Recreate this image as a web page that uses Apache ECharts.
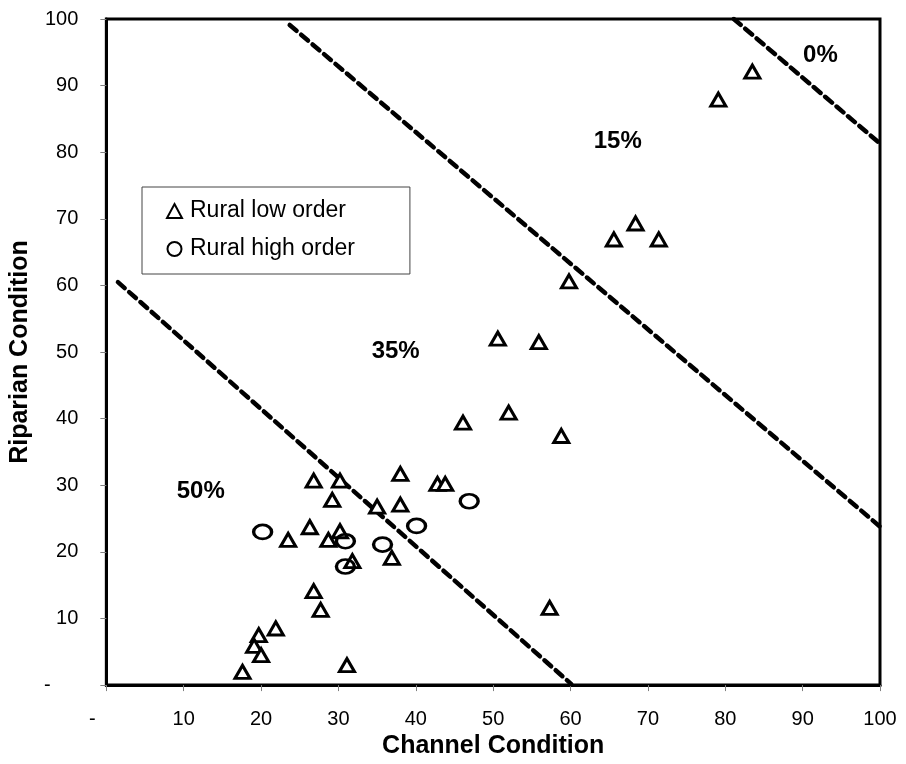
<!DOCTYPE html>
<html>
<head>
<meta charset="utf-8">
<script src="https://cdn.jsdelivr.net/npm/echarts@6/dist/echarts.min.js"></script>
<style>
html,body{margin:0;padding:0;background:#fff;}
#main{width:906px;height:764px;}
</style>
</head>
<body>
<div id="main"></div>
<script>
// Rural low order (triangles): channel condition, riparian condition
var lowOrderX = [83.5, 79.1, 68.4, 65.6, 71.4, 59.8, 50.6, 55.9, 46.1, 52.0, 58.8, 26.8, 30.2, 38.0, 42.8, 43.8, 29.2, 35.0, 38.0, 26.3, 30.2, 23.5, 28.7, 31.8, 36.9, 57.3, 26.8, 27.7, 21.9, 19.7, 19.1, 20.0, 17.6, 31.1];
var lowOrderY = [92.1, 87.9, 69.3, 66.9, 66.9, 60.6, 52.0, 51.5, 39.4, 40.9, 37.4, 30.7, 30.7, 31.7, 30.2, 30.2, 27.8, 26.8, 27.1, 23.7, 23.1, 21.8, 21.8, 18.6, 19.1, 11.6, 14.1, 11.3, 8.5, 7.5, 5.9, 4.5, 2.0, 3.0];
// Rural high order (circles)
var highOrderX = [20.2, 30.9, 30.9, 35.7, 40.1, 46.9];
var highOrderY = [23.0, 21.6, 17.8, 21.1, 23.9, 27.6];
// Dashed boundary lines (endpoints)
var line0X = [81.1, 99.7];
var line0Y = [100, 81.6];
var line15X = [23.7, 100];
var line15Y = [99.1, 23.8];
var line50X = [1.5, 60.1];
var line50Y = [60.5, 0.15];
// Zone labels
var zoneLabels = ['0%', '15%', '35%', '50%'];
var zoneLabelX = [92.3, 66.1, 37.4, 12.2];
var zoneLabelY = [94.6, 81.6, 50.1, 29.1];
// Axis ticks
var axisMin = 0, axisMax = 100, axisStep = 10;

function pairs(xs, ys) { return xs.map(function (x, i) { return [x, ys[i]]; }); }

var FONT = '"Liberation Sans", Arial, sans-serif';
var chart = echarts.init(document.getElementById('main'), null, { renderer: 'canvas' });

function lineSeries(xs, ys) {
  return {
    type: 'line', data: pairs(xs, ys), symbol: 'none', silent: true,
    lineStyle: { color: '#000', width: 4.5, type: [9, 6], cap: 'round' },
    z: 1
  };
}

chart.setOption({
  animation: false,
  backgroundColor: '#fff',
  grid: { left: 103, right: 26, top: 19, bottom: 78, show: true, borderColor: '#000', borderWidth: 3, backgroundColor: 'transparent' },
  legend: {
    data: ['Rural low order', 'Rural high order'],
    orient: 'vertical', left: 142, top: 187,
    padding: [12, 55, 13, 24],
    itemGap: 14, itemWidth: 15, itemHeight: 14,
    borderColor: '#444', borderWidth: 1, backgroundColor: '#fff',
    textStyle: { fontFamily: FONT, fontSize: 23, color: '#000', lineHeight: 24, padding: [0, 0, 0, 3] }
  },
  xAxis: {
    type: 'value', min: axisMin, max: axisMax, interval: axisStep,
    name: 'Channel Condition', nameLocation: 'middle', nameGap: 45,
    nameTextStyle: { fontFamily: FONT, fontSize: 25, fontWeight: 'bold', color: '#000' },
    axisLine: { show: true, lineStyle: { color: '#000', width: 3 } },
    axisTick: { show: true, length: 6, lineStyle: { color: '#808080', width: 1 } },
    axisLabel: {
      fontFamily: FONT, fontSize: 20, color: '#000', margin: 24,
      formatter: function (v) { return v === 0 ? '-     ' : String(v); }
    },
    splitLine: { show: false }
  },
  yAxis: {
    type: 'value', min: axisMin, max: axisMax, interval: axisStep,
    name: 'Riparian Condition', nameLocation: 'middle', nameGap: 67,
    nameTextStyle: { fontFamily: FONT, fontSize: 25, fontWeight: 'bold', color: '#000' },
    axisLine: { show: true, lineStyle: { color: '#000', width: 3 } },
    axisTick: { show: true, length: 6, lineStyle: { color: '#808080', width: 1 } },
    axisLabel: {
      fontFamily: FONT, fontSize: 20, color: '#000', margin: 28,
      formatter: function (v) { return v === 0 ? '-     ' : String(v); }
    },
    splitLine: { show: false }
  },
  series: [
    lineSeries(line0X, line0Y),
    lineSeries(line15X, line15Y),
    lineSeries(line50X, line50Y),
    {
      name: 'Rural low order', type: 'scatter', data: pairs(lowOrderX, lowOrderY),
      symbol: 'triangle', symbolSize: [15, 13],
      itemStyle: { color: '#fff', borderColor: '#000', borderWidth: 3, opacity: 1 },
      z: 3
    },
    {
      name: 'Rural high order', type: 'scatter', data: pairs(highOrderX, highOrderY),
      symbol: 'circle', symbolSize: [18, 14],
      itemStyle: { color: 'rgba(255,255,255,0)', borderColor: '#000', borderWidth: 3, opacity: 1 },
      z: 4
    },
    {
      type: 'scatter', silent: true, symbolSize: 0,
      itemStyle: { opacity: 1 },
      data: zoneLabels.map(function (t, i) { return { name: t, value: [zoneLabelX[i], zoneLabelY[i]] }; }),
      label: {
        show: true, position: 'inside', formatter: function (p) { return p.name; },
        fontFamily: FONT, fontSize: 24, fontWeight: 'bold', color: '#000',
        textBorderWidth: 0, textBorderColor: 'transparent'
      },
      z: 5
    }
  ]
});
</script>
</body>
</html>
